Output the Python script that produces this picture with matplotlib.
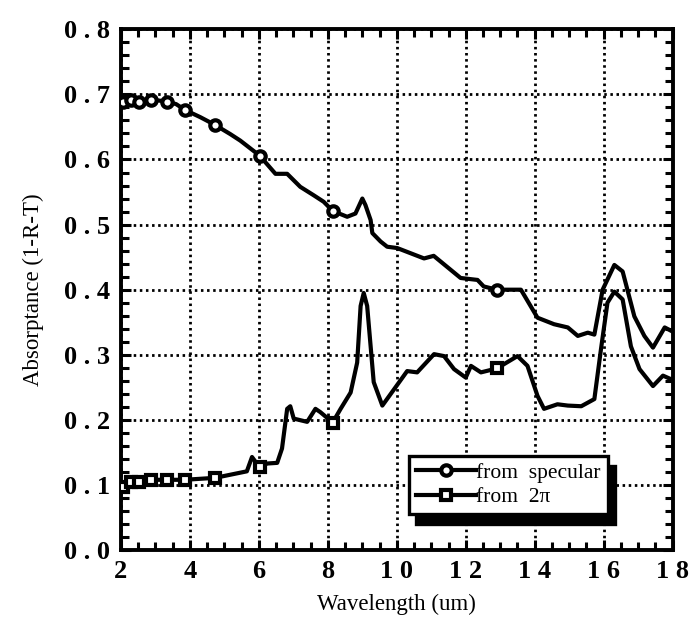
import matplotlib
matplotlib.use("Agg")
import matplotlib.pyplot as plt
from matplotlib.ticker import MultipleLocator, FixedLocator, FixedFormatter

# ---------------------------------------------------------------------------
# Data
# ---------------------------------------------------------------------------

spec_x = [2.05, 2.28, 2.52, 2.87, 3.33, 3.60, 3.86, 4.30, 4.73, 5.17, 5.46,
          6.02, 6.48, 6.82, 7.20, 7.59, 7.88, 8.14, 8.56, 8.80, 9.00, 9.09,
          9.24, 9.29, 9.53, 9.72, 10.01, 10.79, 11.07, 11.85, 12.34, 12.52,
          12.90, 13.60, 14.08, 14.56, 14.96, 15.25, 15.54, 15.73, 15.97,
          16.31, 16.55, 16.89, 17.18, 17.43, 17.77, 18.06]
spec_y = [0.689, 0.692, 0.689, 0.692, 0.689, 0.685, 0.676, 0.665, 0.653,
          0.639, 0.629, 0.606, 0.578, 0.578, 0.558, 0.545, 0.535, 0.521,
          0.512, 0.517, 0.540, 0.530, 0.507, 0.487, 0.474, 0.466, 0.464,
          0.448, 0.452, 0.418, 0.415, 0.405, 0.400, 0.400, 0.357, 0.347,
          0.342, 0.329, 0.334, 0.331, 0.400, 0.438, 0.428, 0.359, 0.329,
          0.311, 0.342, 0.334]

twopi_x = [2.05, 2.28, 2.52, 2.87, 3.31, 3.84, 4.73, 5.65, 5.80, 6.02, 6.24,
           6.53, 6.67, 6.82, 6.91, 7.01, 7.40, 7.64, 7.78, 8.14, 8.37, 8.66,
           8.85, 8.95, 9.04, 9.14, 9.33, 9.58, 9.92, 10.30, 10.59, 11.08,
           11.37, 11.66, 12.00, 12.15, 12.44, 12.90, 13.50, 13.79, 14.08,
           14.27, 14.66, 14.96, 15.35, 15.73, 15.92, 16.11, 16.31, 16.55,
           16.79, 17.04, 17.43, 17.72, 18.06]
twopi_y = [0.097, 0.105, 0.104, 0.108, 0.108, 0.108, 0.111, 0.121, 0.143,
           0.127, 0.133, 0.134, 0.156, 0.217, 0.221, 0.202, 0.197, 0.217,
           0.212, 0.196, 0.217, 0.242, 0.288, 0.375, 0.395, 0.375, 0.258,
           0.222, 0.247, 0.275, 0.273, 0.301, 0.298, 0.278, 0.265, 0.283,
           0.273, 0.279, 0.298, 0.283, 0.237, 0.217, 0.224, 0.222, 0.221,
           0.232, 0.308, 0.380, 0.397, 0.385, 0.313, 0.278, 0.252, 0.268,
           0.260]

# points carrying a marker
mark_x = [2.05, 2.28, 2.52, 2.87, 3.33, 3.86, 4.73, 6.02, 8.14, 12.90]
spec_mark_y = [0.689, 0.692, 0.689, 0.692, 0.689, 0.676, 0.653, 0.606, 0.521, 0.400]
twopi_mark_y = [0.097, 0.105, 0.104, 0.108, 0.108, 0.108, 0.111, 0.127, 0.196, 0.279]

x_ticks = [2, 4, 6, 8, 10, 12, 14, 16, 18]
x_ticklabels = ["2", "4", "6", "8", "1 0", "1 2", "1 4", "1 6", "1 8"]
y_ticks = [0.0, 0.1, 0.2, 0.3, 0.4, 0.5, 0.6, 0.7, 0.8]
y_ticklabels = ["0 . 0", "0 . 1", "0 . 2", "0 . 3", "0 . 4",
                "0 . 5", "0 . 6", "0 . 7", "0 . 8"]

# ---------------------------------------------------------------------------
# Plot
# ---------------------------------------------------------------------------

plt.rcParams["font.family"] = ["Liberation Serif", "DejaVu Serif"]

fig = plt.figure(figsize=(6.93, 6.23), dpi=100)
ax = fig.add_axes([0.1746, 0.117, 0.796, 0.836])

lw = 3.0
mk = dict(ms=7.5, mfc="white", mec="black", mew=3.0)
ax.plot(spec_x, spec_y, color="black", lw=lw, solid_joinstyle="round", zorder=3)
ax.plot(twopi_x, twopi_y, color="black", lw=lw, solid_joinstyle="round", zorder=3)
ax.plot(mark_x, spec_mark_y, ls="none", marker="o", zorder=4, **mk)
ax.plot(mark_x, twopi_mark_y, ls="none", marker="s", zorder=4, **mk)

# legend handles (line + marker)
h1, = ax.plot([], [], color="black", lw=lw, marker="o", **mk)
h2, = ax.plot([], [], color="black", lw=lw, marker="s", **mk)
leg = ax.legend([h1, h2], ["from  specular", "from  2\u03c0"],
                loc="upper left", bbox_to_anchor=(0.522, 0.181),
                borderaxespad=0, fancybox=False, framealpha=1,
                edgecolor="black", fontsize=15.5, handlelength=2.8,
                handletextpad=0.0, borderpad=0.33, labelspacing=0.2,
                shadow={"ox": 5, "oy": -7, "color": "black", "alpha": 1})
leg.get_frame().set_linewidth(2.4)
leg.set_zorder(6)

ax.set_xlim(2, 18)
ax.set_ylim(0, 0.8)

ax.xaxis.set_major_locator(FixedLocator(x_ticks))
ax.xaxis.set_major_formatter(FixedFormatter(x_ticklabels))
ax.yaxis.set_major_locator(FixedLocator(y_ticks))
ax.yaxis.set_major_formatter(FixedFormatter(y_ticklabels))
ax.xaxis.set_minor_locator(MultipleLocator(0.5))
ax.yaxis.set_minor_locator(MultipleLocator(0.02))

ax.tick_params(which="both", direction="in", top=True, right=True,
               width=2.2, color="black")
ax.tick_params(which="major", length=7, labelsize=19)
ax.tick_params(which="minor", length=6)
ax.tick_params(axis="y", pad=8)
ax.tick_params(axis="x", pad=7)
for lab in ax.get_xticklabels() + ax.get_yticklabels():
    lab.set_fontweight("bold")

ax.grid(True, which="major", color="black", lw=2.0, ls=(0, (0.9, 1.3)))
for s in ax.spines.values():
    s.set_linewidth(2.8)

ax.set_xlabel("Wavelength (um)", fontsize=16.5, labelpad=8)
ax.set_ylabel("Absorptance (1-R-T)", fontsize=16.5, labelpad=14)

fig.savefig("out.png", dpi=100)
